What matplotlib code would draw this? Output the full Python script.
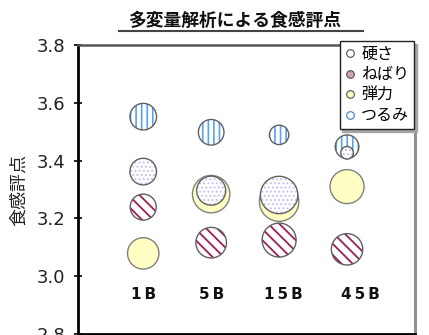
import matplotlib
matplotlib.use("Agg")
import matplotlib.pyplot as plt
from matplotlib.lines import Line2D
import numpy as np

plt.rcParams['font.family'] = ['Noto Sans CJK JP', 'DejaVu Sans']

# Data
categories = ["1B", "5B", "15B", "45B"]
series = ["硬さ", "ねばり", "弾力", "つるみ"]
score_katasa = [3.362, 3.296, 3.281, 3.427]
score_nebari = [3.239, 3.116, 3.125, 3.093]
score_danryoku = [3.079, 3.284, 3.258, 3.310]
score_tsurumi = [3.552, 3.498, 3.489, 3.448]
bubble_katasa = [1.33, 1.45, 1.87, 0.63]
bubble_nebari = [1.30, 1.53, 1.70, 1.57]
bubble_danryoku = [1.57, 1.87, 1.97, 1.70]
bubble_tsurumi = [1.33, 1.28, 0.97, 1.18]
yticks = [2.8, 3.0, 3.2, 3.4, 3.6, 3.8]

W, H = 429, 335
fig = plt.figure(figsize=(W / 100, H / 100), dpi=100)
ax = fig.add_axes([78 / W, 1 - 334 / H, (415 - 78) / W, (334 - 45) / H])

x = np.arange(len(categories))


def size_pts(b):
    # bubble value -> marker area in pt^2
    return (14.4 * np.asarray(b)) ** 2


styles = {
    "硬さ": dict(face="white", hatch="....", hcolor="#bcbcf2", hlw=0.8, z=5),
    "ねばり": dict(face="white", hatch="\\\\\\", hcolor="#9a1f55", hlw=1.3, z=4),
    "弾力": dict(face="#ffffc4", hatch=None, hcolor=None, hlw=0, z=3),
    "つるみ": dict(face="white", hatch="|||", hcolor="#5aa2ea", hlw=1.2, z=2),
}
values = {
    "硬さ": (score_katasa, bubble_katasa),
    "ねばり": (score_nebari, bubble_nebari),
    "弾力": (score_danryoku, bubble_danryoku),
    "つるみ": (score_tsurumi, bubble_tsurumi),
}

for name in series:
    yv, bv = values[name]
    st = styles[name]
    s = size_pts(bv)
    if st["hatch"]:
        with plt.rc_context({'hatch.color': st["hcolor"], 'hatch.linewidth': st["hlw"]}):
            ax.scatter(x, yv, s=s, facecolor=st["face"], edgecolor=st["hcolor"],
                       hatch=st["hatch"], linewidths=0, zorder=st["z"])
        ax.scatter(x, yv, s=s, facecolor="none", edgecolor="#606060",
                   linewidths=1.0, zorder=st["z"] + 0.1)
    else:
        ax.scatter(x, yv, s=s, facecolor=st["face"], edgecolor="#808080",
                   linewidths=1.0, zorder=st["z"])

# category labels inside the plot area
label_dx = [0.0, 0.0, 0.06, 0.19]
for i, c in enumerate(categories):
    ax.text(i + label_dx[i], 2.935, "\u2009".join(c), ha="center", va="center",
            fontsize=11, fontweight="bold", family="DejaVu Sans", color="#111111",
            zorder=6)

ax.set_xlim(-0.96, 4.0)
ax.set_ylim(2.8, 3.8)
ax.set_yticks(yticks)
ax.set_yticklabels([f"{v:.1f}" for v in yticks], family="DejaVu Sans",
                   fontsize=13, color="#222222")
ax.set_xticks([])
ax.tick_params(axis="y", direction="inout", length=6, width=1.2, pad=6)

ax.spines["left"].set_linewidth(2.0)
ax.spines["left"].set_color("black")
ax.spines["bottom"].set_linewidth(2.0)
ax.spines["bottom"].set_color("black")
ax.spines["top"].set_linewidth(1.8)
ax.spines["top"].set_color("#555555")
ax.spines["right"].set_linewidth(2.2)
ax.spines["right"].set_color("#909090")

ax.set_ylabel("食感評点", fontsize=13, color="#222222", labelpad=6)

# legend
handles = []
for name in series:
    st = styles[name]
    handles.append(Line2D([], [], linestyle="none", marker="o", markersize=5.5,
                          markerfacecolor=st["face"] if name != "ねばり" else "#d0a0b8",
                          markeredgecolor="#505050" if name != "つるみ" else "#3a7bc8",
                          markeredgewidth=0.8, label=name))
leg = ax.legend(handles=handles, loc="upper right", bbox_to_anchor=(0.997, 1.014),
                fontsize=11.5, frameon=True, fancybox=False, edgecolor="#222222",
                framealpha=1, handlelength=0.7, handletextpad=0.35,
                labelspacing=0.22, borderpad=0.3, borderaxespad=0.0,
                shadow={'color': '0.65', 'alpha': 1, 'ox': 2, 'oy': -2})
leg.get_frame().set_linewidth(1.0)
leg.set_zorder(10)

# title with underline
fig.text(235 / W, 1 - 20.5 / H, "多変量解析による食感評点", ha="center", va="center",
         fontsize=12.8, fontweight="bold", color="#111111")
fig.add_artist(Line2D([119 / W, 363 / W], [1 - 31 / H, 1 - 31 / H],
                      color="#444444", linewidth=1.5))

fig.savefig("out.png", dpi=100)
